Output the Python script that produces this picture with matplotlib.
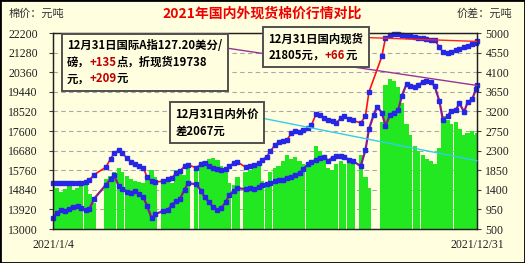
import numpy as np
import pandas as pd
import matplotlib
matplotlib.use('Agg')
import matplotlib.pyplot as plt
import matplotlib.dates as mdates
from matplotlib.offsetbox import TextArea, HPacker, VPacker, AnnotationBbox
from matplotlib.patches import Rectangle

CJK = ['Noto Sans CJK SC', 'DejaVu Sans']
SERIF = ['Liberation Serif', 'DejaVu Serif']
nan = np.nan

# 取样日期 (每周一、周四, 节假日除外)
days_by_month = {
    1: [4, 7, 11, 14, 18, 21, 25, 28],
    2: [1, 4, 8, 18, 22, 25],
    3: [1, 4, 8, 11, 15, 18, 22, 25, 29],
    4: [1, 8, 12, 15, 19, 22, 26, 29],
    5: [6, 10, 13, 17, 20, 24, 27, 31],
    6: [3, 7, 10, 17, 21, 24, 28],
    7: [1, 5, 8, 12, 15, 19, 22, 26, 29],
    8: [2, 5, 9, 12, 16, 19, 23, 26, 30],
    9: [2, 6, 9, 13, 16, 23, 27, 30],
    10: [4, 7, 11, 14, 18, 21, 25, 28],
    11: [1, 4, 8, 11, 15, 18, 22, 25, 29],
    12: [2, 6, 9, 13, 16, 20, 23, 27, 30, 31],
}

# 国内现货 (元/吨)
domestic = [
    15150, 15160, 15150, 15170, 15150, 15160, 15180, 15160,
    15200, 15300, 15550, 15900, 16300, 16550,
    16700, 16550, 16330, 16150, 16050, 15950, 15860, 15450, 15250,
    15200, 15250, 15330, 15390, 15650, 15720, 15950, 16000,
    15880, 16050, 16120, 15950, 15860, 15800, 15770, 15800,
    15950, 16100, 16150, 15900, 15950, 16000, 16100,
    16240, 16400, 16650, 16950, 17080, 17130, 17170, 17500, 17620,
    17550, 17650, 17740, 17880, 18400, 18350, 18200, 18120, 18050,
    17980, 18200, 18300, 18150, 18100, 17980, 18300, 19430,
    nan, nan, 21100, 21950, 22100, 22150, 22150, 22120,
    22080, 22060, 22000, 21970, 21950, 21920, 21880, 21850, 21550,
    21300, 21260, 21300, 21400, 21450, 21550, 21600, 21700, 21740, 21805,
]

# 国际A指折现货 (元/吨)
intl = [
    13520, 13750, 13890, 13850, 13950, 14050, 14100, 13990,
    13880, 13950, 14420, 15070, 15350, 15540,
    15000, 14900, 14750, 14690, 14780, 14650, 14480, 14100, 13500,
    13700, 13850, 13890, 14150, 14300, 14400, 14850, 15150,
    15100, 14800, 14500, 14250, 14050, 13890, 13980, 14250,
    14600, 14800, 14920, 14870, 14920, 14900, 14950,
    15050, 15100, 15160, 15230, 15280, 15320, 15400, 15450, 15520,
    15630, 15800, 16050, 16150, 16250, 16350, 16400, 16200, 16350,
    16430, 16430, 16380, 16250, 16200, 15950, 16700, 17690,
    18350, 18750, 18450, 17850, 18350, 18450, 18590, 19250,
    19800, 19700, 19650, 19760, 19900, 19970, 19880, 19700, 19000,
    18120, 18300, 18550, 18590, 18900, 18500, 18950, 19100, 19550, 19738,
]

# 内外价差 (元/吨)
spread = [
    1550, 1450, 1350, 1420, 1480, 1400, 1450, 1480,
    1520, 1300, 1100, 1650, 1720, 1800,
    1900, 1800, 1720, 1650, 1600, 1580, 1550, 1750, 1850,
    1700, 1650, 1600, 1550, 1850, 1800, 1750, 2000,
    1900, 1950, 2050, 2100, 2120, 2080, 1950, 1850,
    1550, 1500, 1700, 1800, 1850, 1950, 2000,
    1600, 1500, 1800, 1900, 1950, 2050, 2200, 2100, 2150,
    2050, 2000, 1950, 2050, 2400, 2300, 2100, 1900, 1850,
    2000, 2050, 2000, 2100, 2000, 2200, 1700, 1450,
    nan, nan, 2950, 3800, 3950, 3900, 3750, 3400,
    2900, 2650, 2400, 2300, 2200, 2100, 2050, 2000, 2350,
    3100, 3000, 2900, 2950, 2800, 2650, 2700, 2750, 2650, 2700,
]

left_ticks = np.arange(13000, 22201, 920)
right_ticks = np.arange(500, 5001, 450)
x_labels = ['2021/1/4', '2021/12/31']

BG = '#FFFFE0'

dates = pd.to_datetime([f'2021-{m:02d}-{d:02d}' for m, ds in days_by_month.items() for d in ds])
x = mdates.date2num(dates.to_pydatetime())
domestic = np.array(domestic, dtype=float)
intl = np.array(intl, dtype=float)
spread = np.array(spread, dtype=float)

fig = plt.figure(figsize=(5.25, 2.63), dpi=100, facecolor=BG)
ax = fig.add_axes([53 / 525, 1 - 229 / 263, 424 / 525, 196 / 263])
ax2 = ax.twinx()
ax.set_zorder(2)
ax2.set_zorder(1)
ax.patch.set_visible(False)
ax2.set_facecolor(BG)

# 价差柱
m = ~np.isnan(spread)
ax2.bar(x[m], spread[m], width=3.7, color='#22E822', linewidth=0, zorder=2)
ax2.set_ylim(500, 5000)
ax2.set_yticks(right_ticks)
ax2.yaxis.grid(True, linestyle=(0, (4, 3)), color='#A8A8A8', linewidth=0.8, zorder=0)
ax2.set_axisbelow(True)

# 国内 / 国际曲线
m = ~np.isnan(domestic)
ax.plot(x[m], domestic[m], color='#FF1010', linewidth=1.2, marker='s', markersize=2.6,
        markerfacecolor='#2626E6', markeredgecolor='#2626E6', clip_on=False)
ax.plot(x, intl, color='#8B1A8B', linewidth=1.6, marker='s', markersize=2.6,
        markerfacecolor='#2626E6', markeredgecolor='#2626E6', clip_on=False)
ax.set_ylim(13000, 22200)
ax.set_yticks(left_ticks)
ax.set_xlim(x[0], x[-1])
ax.set_xticks([x[0], x[-1]])
ax.set_xticklabels(x_labels)

for a in (ax, ax2):
    for s in a.spines.values():
        s.set_color('#202020')
        s.set_linewidth(0.9)
ax.tick_params(axis='y', length=3, width=0.8, pad=8, labelsize=8.5, color='#404040')
ax.tick_params(axis='x', length=0, pad=7, labelsize=8.5)
ax2.tick_params(axis='y', length=3, width=0.8, pad=3, labelsize=8.5, color='#404040')
for lab in ax.get_yticklabels() + ax.get_xticklabels() + ax2.get_yticklabels():
    lab.set_family(SERIF)
    lab.set_color('#202020')


def box_text(lines):
    rows = []
    for parts in lines:
        items = [TextArea(t, textprops=dict(family=CJK, fontsize=8.2, fontweight='bold', color=c))
                 for t, c in parts]
        rows.append(HPacker(children=items, pad=0, sep=0))
    return VPacker(children=rows, pad=1, sep=2.5, align='left')


def add_note(lines, xy, xybox, line_color, relpos, xycoords='data'):
    ab = AnnotationBbox(box_text(lines), xy, xybox=xybox, xycoords=xycoords, boxcoords='axes fraction',
                        box_alignment=(0, 1), pad=0.3, annotation_clip=False,
                        bboxprops=dict(edgecolor='#505050', facecolor=BG, linewidth=1.4),
                        arrowprops=dict(arrowstyle='-', color=line_color, lw=1.0, relpos=relpos,
                                        shrinkA=0, shrinkB=0))
    ab.set_zorder(5)
    ax.add_artist(ab)


DR = '#C00000'
add_note([[('12月31日国际A指127.20美分/', 'black')],
          [('磅，', 'black'), ('+135', DR), ('点，折现货19738', 'black')],
          [('元，', 'black'), ('+209', DR), ('元', 'black')]],
         (x[-1], intl[-1]), (0.03, 0.975), '#993399', (1, 0.8))
add_note([[('12月31日国内现货', 'black')],
          [('21805元，', 'black'), ('+66', DR), ('元', 'black')]],
         (x[-1], domestic[-1]), (0.505, 1.01), '#FF2020', (1, 0.8))
# 价差连线终点按右轴坐标
add_note([[('12月31日内外价', 'black')],
          [('差2067元', 'black')]],
         (x[-1], 2067), (0.285, 0.625), '#33CCEE', (1, 0.65), xycoords=ax2.transData)

fig.text(0.5, 0.947, '2021年国内外现货棉价行情对比', family=CJK, fontsize=10, fontweight='bold',
         color='#EE0000', ha='center', va='center')
fig.text(0.016, 0.947, '棉价：元吨', family=CJK, fontsize=8, color='#333333', ha='left', va='center')
fig.text(0.976, 0.947, '价差：元吨', family=CJK, fontsize=8, color='#333333', ha='right', va='center')
fig.patches.append(Rectangle((0, 0), 1, 1, transform=fig.transFigure, fill=False,
                             edgecolor='black', linewidth=2))

fig.savefig('out.png', dpi=100, facecolor=BG)
